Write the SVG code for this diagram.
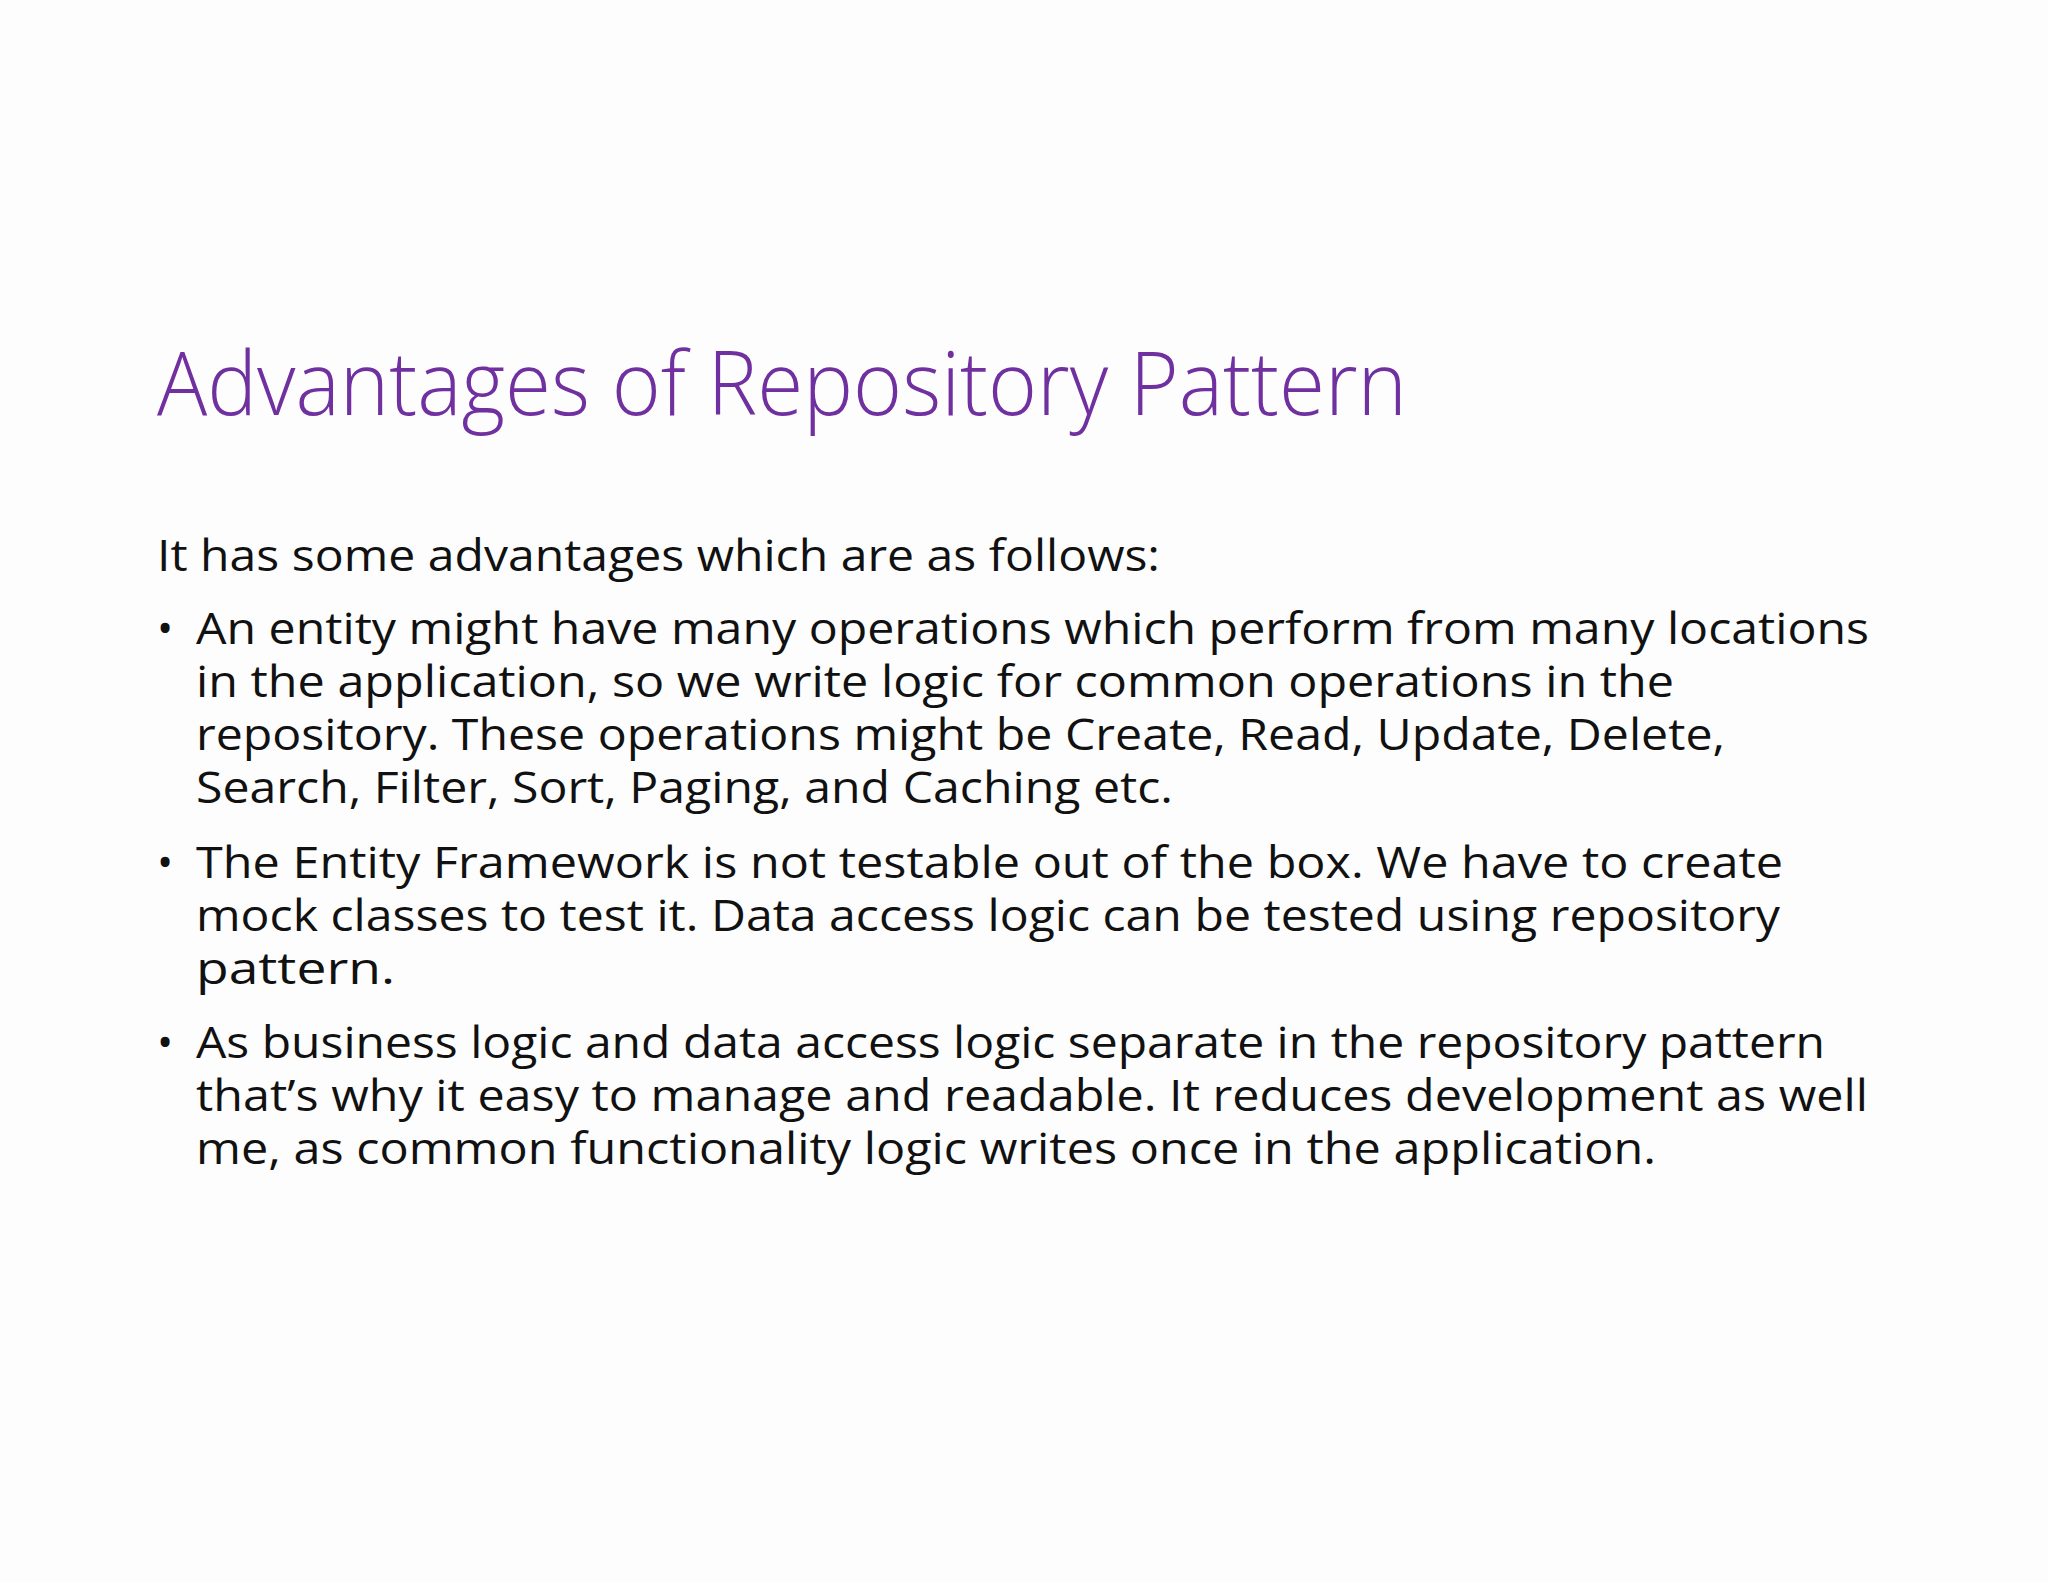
<svg xmlns="http://www.w3.org/2000/svg" width="2048" height="1582" viewBox="0 0 2048 1582">
<style>
.t{font-family:"Open Sans","Liberation Sans",sans-serif;font-size:88px;fill:#7030a0;font-weight:300}
.b{font-family:"Open Sans","Liberation Sans",sans-serif;font-size:43px;fill:#111}
</style>
<rect width="2048" height="1582" fill="#fdfdfd"/>
<g id="title"><text class="t" x="157" y="415" textLength="1250" lengthAdjust="spacingAndGlyphs">Advantages of Repository Pattern</text></g>
<g id="body">
<text class="b" x="157" y="571" textLength="1003" lengthAdjust="spacingAndGlyphs">It has some advantages which are as follows:</text>
<text class="b" x="157" y="644">•</text>
<text class="b" x="196" y="644" textLength="1673" lengthAdjust="spacingAndGlyphs">An entity might have many operations which perform from many locations</text>
<text class="b" x="196" y="697" textLength="1478" lengthAdjust="spacingAndGlyphs">in the application, so we write logic for common operations in the</text>
<text class="b" x="196" y="750" textLength="1529" lengthAdjust="spacingAndGlyphs">repository. These operations might be Create, Read, Update, Delete,</text>
<text class="b" x="196" y="803" textLength="977" lengthAdjust="spacingAndGlyphs">Search, Filter, Sort, Paging, and Caching etc.</text>
<text class="b" x="157" y="878">•</text>
<text class="b" x="196" y="878" textLength="1587" lengthAdjust="spacingAndGlyphs">The Entity Framework is not testable out of the box. We have to create</text>
<text class="b" x="196" y="931" textLength="1584" lengthAdjust="spacingAndGlyphs">mock classes to test it. Data access logic can be tested using repository</text>
<text class="b" x="196" y="984" textLength="199" lengthAdjust="spacingAndGlyphs">pattern.</text>
<text class="b" x="157" y="1058">•</text>
<text class="b" x="196" y="1058" textLength="1629" lengthAdjust="spacingAndGlyphs">As business logic and data access logic separate in the repository pattern</text>
<text class="b" x="196" y="1111" textLength="1672" lengthAdjust="spacingAndGlyphs">that’s why it easy to manage and readable. It reduces development as well</text>
<text class="b" x="196" y="1164" textLength="1460" lengthAdjust="spacingAndGlyphs">me, as common functionality logic writes once in the application.</text>
</g>
</svg>
